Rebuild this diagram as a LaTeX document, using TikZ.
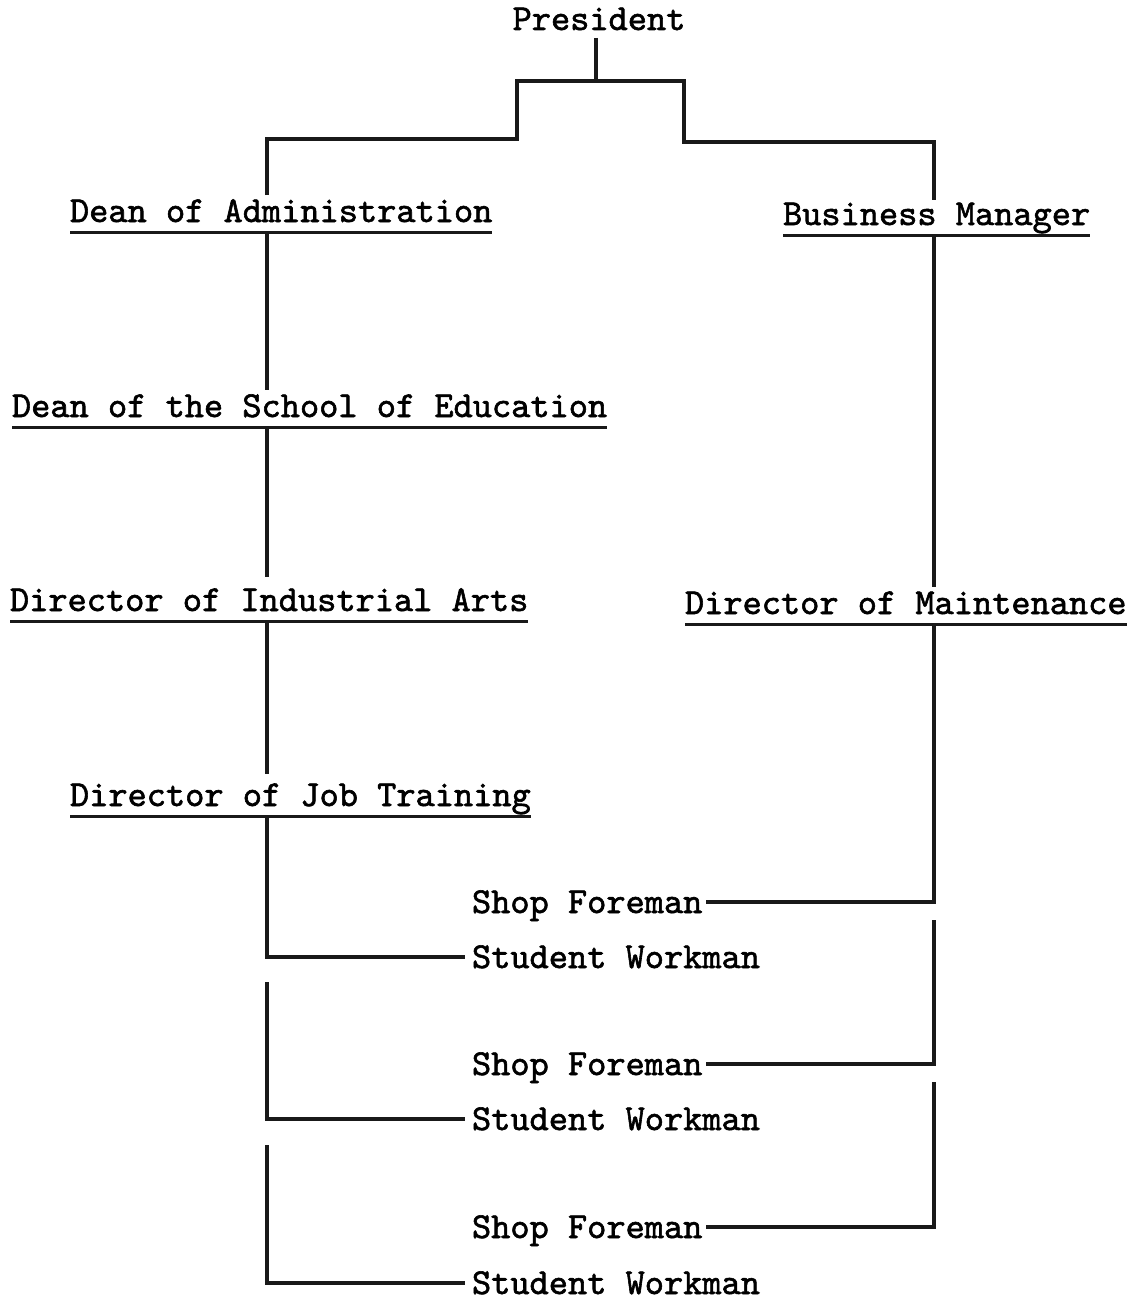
\documentclass[tikz,border=0pt]{standalone}
\usepackage{fontspec}
\newfontfamily\tw{lmmono10-regular.otf}[FakeBold=1.6]
\usetikzlibrary{calc}
\tikzset{
  lbl/.style={inner sep=0pt, outer sep=0pt, font=\tw\fontsize{36.57pt}{40pt}\selectfont, text height=22pt, text depth=0pt},
  ulbl/.style={lbl, text depth=10pt, anchor=base west},
  link/.style={line width=3.2pt, draw=black!90},
  uline/.style={line width=3pt, draw=black!90}
}
\begin{document}
\begin{tikzpicture}[x=1pt, y=-1pt]
\useasboundingbox (0,0) rectangle (1136,1303);
\coordinate (L) at (267,0);
\coordinate (R) at (934,0);
\coordinate (a1) at (517,139);
\coordinate (a2) at (517,81);
\coordinate (a3) at (684,81);
\coordinate (a4) at (684,142);

\node[lbl, anchor=base] (pres) at (599,30) {President};
\node[ulbl] (deanadm) at (70,222) {Dean of Administration};
\node[ulbl] (busmgr) at (783,225) {Business Manager};
\node[ulbl] (deansch) at (12,417) {Dean of the School of Education};
\node[ulbl] (dirind) at (10,611) {Director of Industrial Arts};
\node[ulbl] (dirmnt) at (685,614) {Director of Maintenance};
\node[ulbl] (dirjob) at (70,806) {Director of Job Training};

\node[lbl, anchor=west] (sf1) at (472,902) {Shop Foreman};
\node[lbl, anchor=west] (sw1) at (472,957) {Student Workman};
\node[lbl, anchor=west] (sf2) at (472,1064) {Shop Foreman};
\node[lbl, anchor=west] (sw2) at (472,1119) {Student Workman};
\node[lbl, anchor=west] (sf3) at (472,1227) {Shop Foreman};
\node[lbl, anchor=west] (sw3) at (472,1283) {Student Workman};

% underlines
\foreach \n in {deanadm,busmgr,deansch,dirind,dirmnt,dirjob}
  \draw[uline] (\n.south west) -- (\n.south east);

% top connectors
\draw[link] ($(pres.south)+(-3,8)$) -- ($(pres.south |- a2)+(-3,0)$);
\draw[link] ($(deanadm.north -| L)+(0,-5)$) |- (a1) -- (a2) -- (a3) -- (a4) -| ($(busmgr.north -| R)+(0,-3)$);

% left chain
\draw[link] (deanadm.south -| L) -- ($(deansch.north -| L)+(0,-5)$);
\draw[link] (deansch.south -| L) -- ($(dirind.north -| L)+(0,-12)$);
\draw[link] (dirind.south -| L) -- ($(dirjob.north -| L)+(0,-10)$);
\draw[link] (dirjob.south -| L) |- ($(sw1.west)+(-7,0)$);
\draw[link] ($(sw1.west -| L)+(0,25)$) |- ($(sw2.west)+(-7,0)$);
\draw[link] ($(sw2.west -| L)+(0,26)$) |- ($(sw3.west)+(-7,0)$);

% right chain
\draw[link] (busmgr.south -| R) -- ($(dirmnt.north -| R)+(0,-5)$);
\draw[link] (dirmnt.south -| R) |- ($(sf1.east)+(4,0)$);
\draw[link] ($(sf1.east -| R)+(0,18)$) |- ($(sf2.east)+(4,0)$);
\draw[link] ($(sf2.east -| R)+(0,18)$) |- ($(sf3.east)+(4,0)$);
\end{tikzpicture}
\end{document}
